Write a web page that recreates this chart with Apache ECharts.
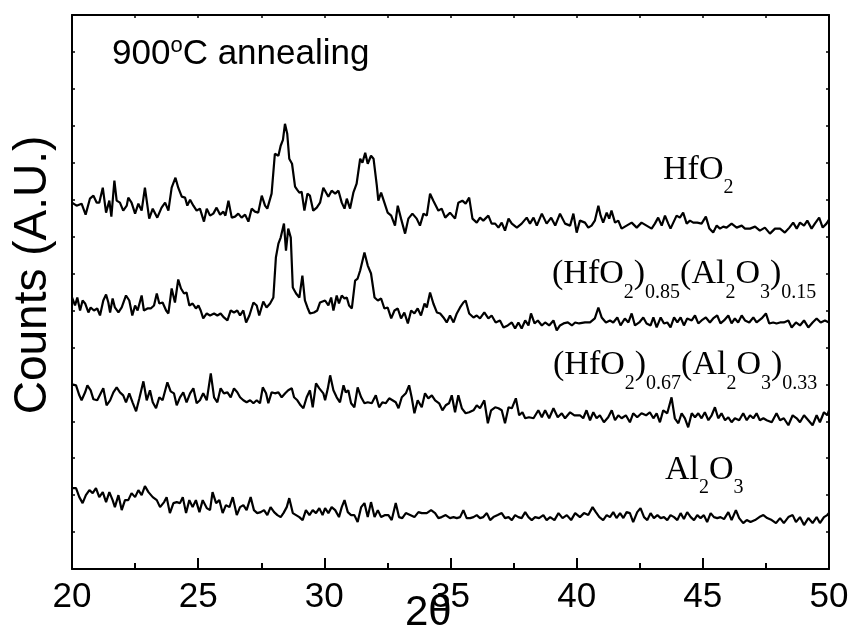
<!DOCTYPE html>
<html><head><meta charset="utf-8">
<script src="https://cdn.jsdelivr.net/npm/echarts/dist/echarts.min.js"></script>
<style>html,body{margin:0;padding:0;background:#fff}#c{width:849px;height:630px}</style>
</head><body><div id="c"></div>
<script>
// x axis: 2-theta (deg); y: counts (arbitrary units, stacked offsets)
const xTickValues = [20, 25, 30, 35, 40, 45, 50];
const seriesNames = ['HfO2', '(HfO2)0.85(Al2O3)0.15', '(HfO2)0.67(Al2O3)0.33', 'Al2O3'];

const hfo2 = [
[20.0,367],[20.18,364],[20.38,366],[20.54,355],[20.71,371],[20.85,374],[20.98,367],[21.08,367],[21.22,382],[21.35,357],
[21.48,369],[21.56,353],[21.68,389],[21.77,369],[21.90,367],[22.03,359],[22.17,364],[22.23,372],[22.36,367],[22.50,356],
[22.63,366],[22.76,359],[22.89,382],[23.06,351],[23.20,361],[23.38,352],[23.55,362],[23.69,367],[23.82,359],[23.95,382],
[24.10,392],[24.21,382],[24.35,373],[24.48,372],[24.57,364],[24.68,370],[24.81,364],[24.94,359],[25.07,361],[25.23,348],
[25.34,361],[25.47,354],[25.60,356],[25.73,362],[25.87,355],[26.00,358],[26.08,354],[26.20,369],[26.33,352],[26.46,353],
[26.59,356],[26.72,352],[26.86,355],[26.99,348],[27.12,361],[27.25,358],[27.38,357],[27.52,374],[27.65,364],[27.74,361],
[27.91,376],[28.04,416],[28.18,414],[28.27,424],[28.36,430],[28.44,446],[28.53,436],[28.61,411],[28.72,406],[28.84,383],
[28.92,380],[29.01,377],[29.10,378],[29.21,359],[29.33,376],[29.43,374],[29.56,359],[29.70,362],[29.83,367],[29.96,382],
[30.03,383],[30.16,373],[30.29,379],[30.43,376],[30.56,379],[30.69,367],[30.80,361],[30.89,371],[31.02,361],[31.15,377],
[31.28,386],[31.42,411],[31.51,407],[31.62,417],[31.72,406],[31.85,414],[31.95,411],[32.08,384],[32.14,369],[32.25,377],
[32.38,367],[32.51,357],[32.65,354],[32.80,344],[32.91,364],[33.04,351],[33.20,336],[33.33,351],[33.49,356],[33.66,351],
[33.79,344],[33.93,356],[34.06,354],[34.19,376],[34.32,369],[34.52,359],[34.65,361],[34.79,352],[34.98,357],[35.18,351],
[35.31,367],[35.47,369],[35.60,366],[35.74,372],[35.87,351],[36.04,347],[36.17,352],[36.30,349],[36.50,354],[36.63,346],
[36.77,346],[36.90,342],[37.03,347],[37.16,339],[37.30,351],[37.43,346],[37.63,342],[37.82,346],[38.02,352],[38.15,346],
[38.29,352],[38.42,344],[38.62,356],[38.81,346],[38.99,352],[39.15,344],[39.34,356],[39.54,346],[39.74,344],[39.87,356],
[40.00,337],[40.13,349],[40.33,347],[40.46,342],[40.59,344],[40.72,349],[40.86,364],[40.95,354],[41.05,347],[41.19,357],
[41.29,351],[41.38,359],[41.52,347],[41.65,349],[41.78,341],[41.98,344],[42.18,347],[42.38,342],[42.57,347],[42.77,344],
[42.97,341],[43.10,346],[43.23,352],[43.37,344],[43.50,354],[43.63,346],[43.72,341],[43.83,347],[43.96,354],[44.09,352],
[44.22,357],[44.36,346],[44.49,349],[44.62,347],[44.78,347],[44.95,346],[45.12,353],[45.26,341],[45.41,337],[45.55,344],
[45.68,341],[45.81,343],[45.94,342],[46.14,346],[46.34,342],[46.54,344],[46.67,341],[46.87,341],[47.07,343],[47.26,339],
[47.46,342],[47.66,336],[47.86,341],[48.06,341],[48.25,337],[48.43,342],[48.58,347],[48.72,341],[48.85,347],[49.01,344],
[49.14,349],[49.31,341],[49.44,346],[49.61,352],[49.75,342],[49.90,346],[50.0,350]
];

const hfAl085 = [
[20.0,272],[20.12,264],[20.21,272],[20.32,259],[20.42,269],[20.52,266],[20.65,257],[20.74,262],[20.87,259],[21.00,261],
[21.11,254],[21.24,269],[21.35,275],[21.44,267],[21.51,257],[21.61,271],[21.70,262],[21.84,257],[21.97,262],[22.14,274],
[22.27,269],[22.39,254],[22.50,264],[22.60,259],[22.76,274],[22.85,259],[22.99,261],[23.12,261],[23.25,264],[23.36,276],
[23.46,266],[23.59,267],[23.73,259],[23.82,256],[23.95,281],[24.08,267],[24.21,290],[24.32,281],[24.44,276],[24.54,277],
[24.65,264],[24.78,266],[24.91,261],[25.01,264],[25.10,259],[25.20,251],[25.34,256],[25.47,254],[25.63,256],[25.76,254],
[25.89,256],[26.02,252],[26.16,249],[26.29,259],[26.42,257],[26.55,259],[26.66,254],[26.79,259],[26.90,247],[27.03,254],
[27.19,267],[27.32,264],[27.42,254],[27.58,268],[27.71,262],[27.85,266],[27.98,272],[28.08,312],[28.18,326],[28.27,332],
[28.40,346],[28.48,319],[28.57,341],[28.67,332],[28.75,282],[28.88,276],[29.01,272],[29.13,294],[29.23,269],[29.33,262],
[29.43,256],[29.59,257],[29.72,259],[29.83,267],[30.03,269],[30.16,264],[30.27,272],[30.36,259],[30.49,274],[30.58,266],
[30.69,274],[30.80,271],[30.89,272],[30.98,264],[31.09,261],[31.22,289],[31.32,291],[31.42,299],[31.59,317],[31.72,304],
[31.85,296],[31.99,272],[32.12,269],[32.25,271],[32.38,261],[32.51,262],[32.65,251],[32.78,259],[32.91,261],[33.04,251],
[33.17,257],[33.31,246],[33.44,259],[33.57,256],[33.70,261],[33.83,254],[33.97,266],[34.06,262],[34.19,277],[34.32,266],
[34.46,257],[34.59,256],[34.72,252],[34.85,247],[34.98,254],[35.12,247],[35.25,256],[35.38,262],[35.51,267],[35.60,269],
[35.74,256],[35.91,252],[36.04,254],[36.17,251],[36.34,257],[36.50,251],[36.63,254],[36.79,247],[36.96,249],[37.10,242],
[37.27,244],[37.43,247],[37.56,241],[37.69,247],[37.82,241],[37.96,249],[38.09,244],[38.19,256],[38.33,246],[38.46,249],
[38.62,244],[38.75,247],[38.91,244],[39.08,249],[39.21,239],[39.34,244],[39.48,246],[39.65,247],[39.81,244],[39.94,247],
[40.10,246],[40.33,247],[40.53,247],[40.72,251],[40.86,262],[40.99,252],[41.16,247],[41.32,249],[41.45,247],[41.61,252],
[41.74,244],[41.91,251],[42.05,247],[42.18,256],[42.31,244],[42.48,247],[42.64,252],[42.77,246],[42.93,244],[43.04,252],
[43.17,242],[43.33,252],[43.46,246],[43.59,247],[43.72,242],[43.86,252],[43.99,247],[44.12,252],[44.25,244],[44.38,251],
[44.56,249],[44.69,254],[44.82,246],[44.95,249],[45.12,252],[45.28,247],[45.41,251],[45.57,254],[45.70,246],[45.84,249],
[46.01,254],[46.14,246],[46.27,251],[46.40,247],[46.54,254],[46.67,249],[46.84,247],[47.00,252],[47.13,247],[47.33,251],
[47.50,256],[47.63,246],[47.79,247],[47.92,246],[48.06,247],[48.21,247],[48.39,249],[48.52,242],[48.69,247],[48.85,244],
[49.01,249],[49.18,242],[49.35,247],[49.51,251],[49.67,247],[49.84,249],[50.0,247]
];

const hfAl067 = [
[20.0,185],[20.16,184],[20.29,174],[20.38,169],[20.52,177],[20.61,184],[20.74,179],[20.85,170],[21.00,169],[21.14,176],
[21.24,181],[21.37,164],[21.51,169],[21.64,177],[21.77,182],[21.90,177],[22.03,174],[22.14,167],[22.27,176],[22.40,167],
[22.54,158],[22.67,171],[22.83,188],[22.96,169],[23.09,179],[23.20,167],[23.33,161],[23.46,172],[23.59,169],[23.78,187],
[23.91,178],[24.04,176],[24.15,164],[24.28,172],[24.41,177],[24.54,167],[24.68,176],[24.81,181],[24.94,166],[25.07,169],
[25.20,176],[25.34,169],[25.50,196],[25.63,172],[25.76,167],[25.89,181],[26.02,176],[26.16,177],[26.29,172],[26.42,181],
[26.55,177],[26.66,172],[26.79,169],[26.92,167],[27.06,169],[27.19,166],[27.32,169],[27.45,166],[27.56,182],[27.69,176],
[27.78,166],[27.91,177],[28.04,176],[28.18,177],[28.31,172],[28.45,176],[28.57,179],[28.71,181],[28.80,172],[28.93,169],
[29.06,164],[29.17,161],[29.30,172],[29.43,179],[29.54,162],[29.67,186],[29.80,181],[29.96,176],[30.03,169],[30.14,181],
[30.23,194],[30.36,179],[30.49,172],[30.62,167],[30.76,184],[30.85,177],[30.95,179],[31.06,166],[31.19,162],[31.32,182],
[31.46,172],[31.59,166],[31.72,167],[31.88,166],[32.04,174],[32.17,162],[32.30,167],[32.43,166],[32.57,171],[32.70,169],
[32.83,167],[32.94,161],[33.07,172],[33.23,176],[33.36,184],[33.46,172],[33.57,156],[33.70,169],[33.86,162],[33.99,176],
[34.12,171],[34.26,174],[34.39,169],[34.55,166],[34.68,159],[34.81,164],[34.94,166],[35.05,174],[35.18,157],[35.31,174],
[35.45,161],[35.60,156],[35.74,157],[35.91,159],[36.04,164],[36.17,161],[36.34,169],[36.48,146],[36.61,159],[36.77,162],
[36.90,161],[37.03,159],[37.16,146],[37.30,162],[37.43,161],[37.59,171],[37.72,154],[37.85,157],[37.96,151],[38.11,152],
[38.29,151],[38.48,159],[38.62,152],[38.75,159],[38.91,151],[39.08,161],[39.25,152],[39.41,156],[39.54,151],[39.74,157],
[39.91,154],[40.13,154],[40.26,151],[40.39,159],[40.53,149],[40.66,157],[40.79,151],[40.92,154],[41.08,147],[41.25,152],
[41.39,159],[41.52,149],[41.65,154],[41.78,151],[41.95,154],[42.11,147],[42.24,156],[42.40,152],[42.57,156],[42.75,154],
[42.90,157],[43.04,151],[43.17,156],[43.30,147],[43.43,159],[43.59,156],[43.76,172],[43.89,151],[44.03,146],[44.16,156],
[44.29,151],[44.42,142],[44.56,156],[44.69,152],[44.82,156],[44.95,151],[45.08,157],[45.22,149],[45.35,154],[45.48,162],
[45.61,151],[45.74,156],[45.88,149],[46.01,152],[46.14,147],[46.27,151],[46.44,149],[46.60,156],[46.74,149],[46.87,154],
[47.00,151],[47.13,156],[47.26,149],[47.40,151],[47.53,149],[47.73,147],[47.92,156],[48.06,149],[48.21,151],[48.39,144],
[48.56,154],[48.72,151],[48.85,147],[49.01,154],[49.18,149],[49.35,144],[49.51,154],[49.64,147],[49.80,157],[49.93,154],
[50.0,159]
];

const al2o3 = [
[20.0,81],[20.16,81],[20.29,72],[20.42,66],[20.55,74],[20.69,79],[20.82,76],[20.95,81],[21.08,72],[21.22,77],
[21.35,67],[21.48,77],[21.61,69],[21.70,62],[21.84,74],[21.97,59],[22.10,69],[22.23,69],[22.36,76],[22.50,72],
[22.63,79],[22.76,74],[22.89,83],[23.03,77],[23.20,72],[23.36,69],[23.49,62],[23.65,67],[23.75,72],[23.88,56],
[24.02,66],[24.15,67],[24.28,66],[24.39,72],[24.52,56],[24.65,69],[24.78,62],[24.91,69],[25.05,57],[25.18,69],
[25.34,61],[25.47,59],[25.57,77],[25.71,66],[25.84,69],[25.97,56],[26.10,64],[26.24,62],[26.37,72],[26.53,54],
[26.66,62],[26.79,64],[26.92,59],[27.08,72],[27.21,59],[27.34,56],[27.48,57],[27.61,59],[27.74,54],[27.87,62],
[28.01,57],[28.14,54],[28.27,52],[28.38,56],[28.51,62],[28.61,71],[28.75,56],[28.88,54],[29.01,52],[29.14,49],
[29.27,59],[29.41,54],[29.54,59],[29.67,56],[29.80,61],[29.93,54],[30.03,61],[30.16,56],[30.29,62],[30.43,59],
[30.58,52],[30.69,62],[30.80,69],[30.93,57],[31.06,54],[31.19,54],[31.32,47],[31.46,62],[31.59,66],[31.72,52],
[31.85,67],[31.99,52],[32.12,59],[32.25,52],[32.41,54],[32.54,54],[32.67,49],[32.83,66],[32.96,52],[33.09,51],
[33.23,56],[33.40,54],[33.57,52],[33.73,57],[33.86,56],[34.06,56],[34.23,59],[34.39,56],[34.52,51],[34.65,52],
[34.81,54],[34.98,51],[35.12,52],[35.25,51],[35.38,52],[35.51,59],[35.64,51],[35.78,51],[35.91,52],[36.04,54],
[36.17,51],[36.30,52],[36.44,56],[36.57,49],[36.70,52],[36.87,54],[37.03,56],[37.16,51],[37.30,52],[37.43,49],
[37.56,54],[37.69,52],[37.82,51],[37.96,57],[38.09,52],[38.22,49],[38.35,52],[38.51,51],[38.68,54],[38.81,49],
[38.95,52],[39.12,49],[39.28,56],[39.44,51],[39.61,54],[39.78,49],[39.94,56],[40.13,52],[40.29,56],[40.46,54],
[40.63,62],[40.76,57],[40.90,52],[41.05,49],[41.19,54],[41.32,52],[41.45,57],[41.58,51],[41.72,56],[41.85,51],
[41.98,57],[42.11,56],[42.24,47],[42.40,57],[42.53,61],[42.67,52],[42.80,49],[42.93,56],[43.06,51],[43.20,54],
[43.33,51],[43.46,52],[43.59,49],[43.72,54],[43.86,52],[43.99,49],[44.12,56],[44.25,50],[44.38,57],[44.52,52],
[44.65,49],[44.78,54],[44.91,51],[45.04,54],[45.17,47],[45.31,56],[45.44,52],[45.57,51],[45.70,52],[45.84,50],
[46.01,57],[46.14,49],[46.31,59],[46.44,51],[46.60,46],[46.74,49],[46.89,47],[47.07,49],[47.24,52],[47.40,54],
[47.55,51],[47.73,49],[47.90,46],[48.06,51],[48.21,46],[48.39,52],[48.56,54],[48.69,47],[48.85,52],[49.01,44],
[49.18,51],[49.35,46],[49.51,52],[49.64,46],[49.80,52],[49.93,54],[50.0,56]
];

const allData = [hfo2, hfAl085, hfAl067, al2o3];

const serif = '"Liberation Serif", "Times New Roman", serif';
const sans = '"Liberation Sans", Arial, sans-serif';
const richSerif = {
  n: { fontFamily: serif, fontSize: 34, lineHeight: 40, fill: '#000' },
  s: { fontFamily: serif, fontSize: 20, height: 4, verticalAlign: 'bottom', fill: '#000' }
};
function serifLabel(text, x, y) {
  return { type: 'text', x: x, y: y, silent: true,
    style: { text: text, rich: richSerif, fill: '#000', align: 'left', verticalAlign: 'middle',
             textAlign: 'left', textVerticalAlign: 'middle' } };
}

const chart = echarts.init(document.getElementById('c'), null, { renderer: 'canvas' });
const axisCommon = {
  type: 'value', min: 20, max: 50,
  axisLine: { show: true, onZero: false, lineStyle: { color: '#000', width: 2 } },
  splitLine: { show: false }
};
chart.setOption({
  animation: false,
  backgroundColor: '#fff',
  grid: { left: 72, right: 20, top: 15, bottom: 61, containLabel: false, outerBoundsMode: 'none' },
  xAxis: [
    Object.assign({}, axisCommon, {
      position: 'bottom', interval: 5,
      axisTick: { show: true, inside: true, length: 11, lineStyle: { color: '#000', width: 2 } },
      minorTick: { show: true, splitNumber: 2, length: 6, lineStyle: { color: '#000', width: 2 } },
      axisLabel: { show: true, margin: 11, color: '#000', fontFamily: sans, fontSize: 35,
        formatter: function (v) { return xTickValues.indexOf(v) >= 0 ? String(v) : ''; } }
    }),
    Object.assign({}, axisCommon, {
      position: 'top', interval: 2.5,
      axisTick: { show: true, inside: true, length: 3, lineStyle: { color: '#000', width: 1.5 } },
      axisLabel: { show: false }
    })
  ],
  yAxis: [0, 1].map(function (i) {
    return {
      type: 'value', min: 0, max: 555, interval: 37, position: i ? 'right' : 'left',
      axisLine: { show: true, onZero: false, lineStyle: { color: '#000', width: 2 } },
      axisTick: { show: true, inside: true, length: 3, lineStyle: { color: '#000', width: 1.5 } },
      axisLabel: { show: false }, splitLine: { show: false }
    };
  }),
  series: allData.map(function (d, i) {
    return { type: 'line', name: seriesNames[i], data: d, xAxisIndex: 0, yAxisIndex: 0,
      showSymbol: false, symbol: 'none', silent: true,
      lineStyle: { color: '#000', width: 2.2 } };
  }),
  graphic: [
    { type: 'text', x: 112, y: 54, silent: true,
      style: { text: '{n|900}{o|o}{n|C annealing}', fill: '#000', align: 'left', verticalAlign: 'middle',
        textAlign: 'left', textVerticalAlign: 'middle',
        rich: { n: { fontFamily: sans, fontSize: 35, lineHeight: 40, fill: '#000' },
                o: { fontFamily: sans, fontSize: 22, height: 24, verticalAlign: 'top', fill: '#000' } } } },
    serifLabel('{n|HfO}{s|2}', 663, 170),
    serifLabel('{n|(HfO}{s|2}{n|)}{s|0.85}{n|(Al}{s|2}{n|O}{s|3}{n|)}{s|0.15}', 552, 274.5),
    serifLabel('{n|(HfO}{s|2}{n|)}{s|0.67}{n|(Al}{s|2}{n|O}{s|3}{n|)}{s|0.33}', 553, 365.5),
    serifLabel('{n|Al}{s|2}{n|O}{s|3}', 665, 470),
    { type: 'text', x: 33, y: 275, rotation: Math.PI / 2, silent: true,
      style: { text: 'Counts (A.U.)', font: '46px ' + sans, fill: '#000', align: 'center', verticalAlign: 'middle',
        textAlign: 'center', textVerticalAlign: 'middle' } },
    { type: 'text', x: 405, y: 613, silent: true,
      style: { text: '2θ', font: '42px ' + sans, fill: '#000', align: 'left', verticalAlign: 'middle',
        textAlign: 'left', textVerticalAlign: 'middle' } }
  ]
});
</script>
</body></html>
